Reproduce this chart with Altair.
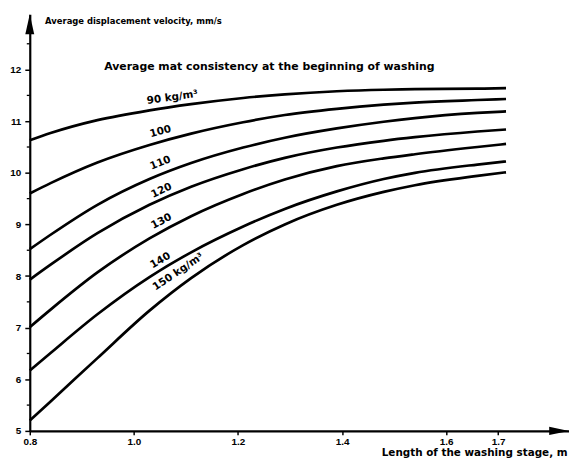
import altair as alt
import pandas as pd

# Length of the washing stage, m (sample positions along each curve)
x_len = [0.8, 0.84, 0.93, 1.03, 1.11, 1.21, 1.29, 1.39, 1.48, 1.54, 1.66, 1.715]

# Average displacement velocity, mm/s, per mat consistency (kg/m3)
c90 = [10.63, 10.77, 11.02, 11.21, 11.33, 11.45, 11.52, 11.58, 11.61, 11.62, 11.63, 11.64]
c100 = [9.60, 9.80, 10.20, 10.54, 10.76, 10.98, 11.12, 11.24, 11.32, 11.36, 11.41, 11.43]
c110 = [8.52, 8.80, 9.38, 9.88, 10.19, 10.49, 10.68, 10.86, 10.99, 11.06, 11.16, 11.19]
c120 = [7.93, 8.22, 8.83, 9.38, 9.73, 10.07, 10.29, 10.49, 10.62, 10.69, 10.80, 10.84]
c130 = [7.01, 7.35, 8.07, 8.73, 9.16, 9.59, 9.87, 10.13, 10.28, 10.36, 10.50, 10.56]
c140 = [6.17, 6.51, 7.26, 7.98, 8.46, 8.96, 9.30, 9.64, 9.88, 10.00, 10.16, 10.22]
c150 = [5.20, 5.57, 6.41, 7.33, 7.96, 8.60, 9.00, 9.38, 9.63, 9.76, 9.94, 10.01]

consistency = [90, 100, 110, 120, 130, 140, 150]
curves = [c90, c100, c110, c120, c130, c140, c150]

# tick labels
x_ticks = [0.8, 1.0, 1.2, 1.4, 1.6, 1.7]
y_ticks = [5, 6, 7, 8, 9, 10, 11, 12]
y_minor = [5.5, 6.5, 7.5, 8.5, 9.5, 10.5, 11.5, 12.5]

# curve labels
label_text = ["90 kg/m³", "100", "110", "120", "130", "140", "150 kg/m³"]
label_x = [1.074, 1.051, 1.051, 1.053, 1.053, 1.051, 1.085]
label_v = [11.46, 10.80, 10.19, 9.655, 9.06, 8.30, 8.08]
label_angle = [352, 345, 338, 335, 332, 330, 326]

header_text = "Average mat consistency at the beginning of washing"

X_MAX = 1.836
Y_MAX = 13.07

rows = []
for c, vals in zip(consistency, curves):
    for x, v in zip(x_len, vals):
        rows.append({"x": x, "v": v, "c": c})
df = pd.DataFrame(rows)

df_labels = pd.DataFrame({"x": label_x, "v": label_v, "text": label_text, "angle": label_angle})
df_minor = pd.DataFrame({"v": y_minor})
df_header = pd.DataFrame({"x": [0.943], "v": [12.05], "text": [header_text]})
df_arrow_y = pd.DataFrame({"x": [0.8], "v": [Y_MAX]})
df_arrow_x = pd.DataFrame({"x": [X_MAX], "v": [5.0]})

xs = alt.Scale(domain=[0.8, X_MAX], nice=False, zero=False)
ys = alt.Scale(domain=[5, Y_MAX], nice=False, zero=False)

TXT = "DejaVu Sans"
NUM = "Liberation Sans"

x_axis = alt.Axis(
    values=x_ticks, format=".1f", labelFlush=False, grid=False,
    domainColor="black", domainWidth=2.2, tickColor="black", tickWidth=1.5, tickSize=4,
    labelFont=NUM, labelFontWeight="bold", labelFontSize=10, labelColor="black", labelPadding=2,
    title="Length of the washing stage, m", titleX=543, titleY=22, titleAlign="right",
    titleBaseline="middle", titleFont=TXT, titleFontSize=10.5, titleFontWeight="bold",
    titleColor="black",
)
y_axis = alt.Axis(
    values=y_ticks, format="d", labelFlush=False, grid=False,
    domainColor="black", domainWidth=2.2, tickColor="black", tickWidth=1.5, tickSize=5,
    labelFont=NUM, labelFontWeight="bold", labelFontSize=10, labelColor="black", labelPadding=4,
    title="Average displacement velocity, mm/s", titleAngle=0, titleX=15, titleY=6,
    titleAlign="left", titleBaseline="middle", titleFont=TXT, titleFontSize=8.5,
    titleFontWeight="bold", titleColor="black",
)

X = alt.X("x:Q", scale=xs, axis=x_axis)
Y = alt.Y("v:Q", scale=ys, axis=y_axis)

lines = alt.Chart(df).mark_line(color="black", strokeWidth=2.7, interpolate="monotone").encode(
    x=X, y=Y, detail="c:N",
)

minor = alt.Chart(df_minor).mark_rule(color="black", strokeWidth=1.3).encode(
    y=Y,
    x=alt.value(-3),
    x2=alt.value(0),
)

labels = alt.Chart(df_labels).mark_text(
    font=TXT, fontWeight="bold", fontSize=10.5, color="black"
).encode(
    x=X, y=Y,
    text="text:N",
    angle=alt.Angle("angle:Q", scale=None),
)

header = alt.Chart(df_header).mark_text(
    font=TXT, fontWeight="bold", fontSize=11, color="black", align="left", baseline="middle"
).encode(x=X, y=Y, text="text:N")

arrow_y = alt.Chart(df_arrow_y).mark_point(
    shape="M0,0L0.45,2L-0.45,2Z", size=400, filled=True, color="black", opacity=1, strokeWidth=0
).encode(x=X, y=Y)

arrow_x = alt.Chart(df_arrow_x).mark_point(
    shape="M0,0L-2,-0.42L-2,0.42Z", size=400, filled=True, color="black", opacity=1, strokeWidth=0
).encode(x=X, y=Y)

chart = alt.layer(lines, minor, labels, header, arrow_y, arrow_x).properties(
    width=545,
    height=421,
    autosize=alt.AutoSizeParams(type="none"),
    padding={"left": 22, "top": 4, "right": 0, "bottom": 28},
    background="white",
).configure_view(stroke=None)

chart.save("out.html", embed_options={"renderer": "svg", "actions": False})
